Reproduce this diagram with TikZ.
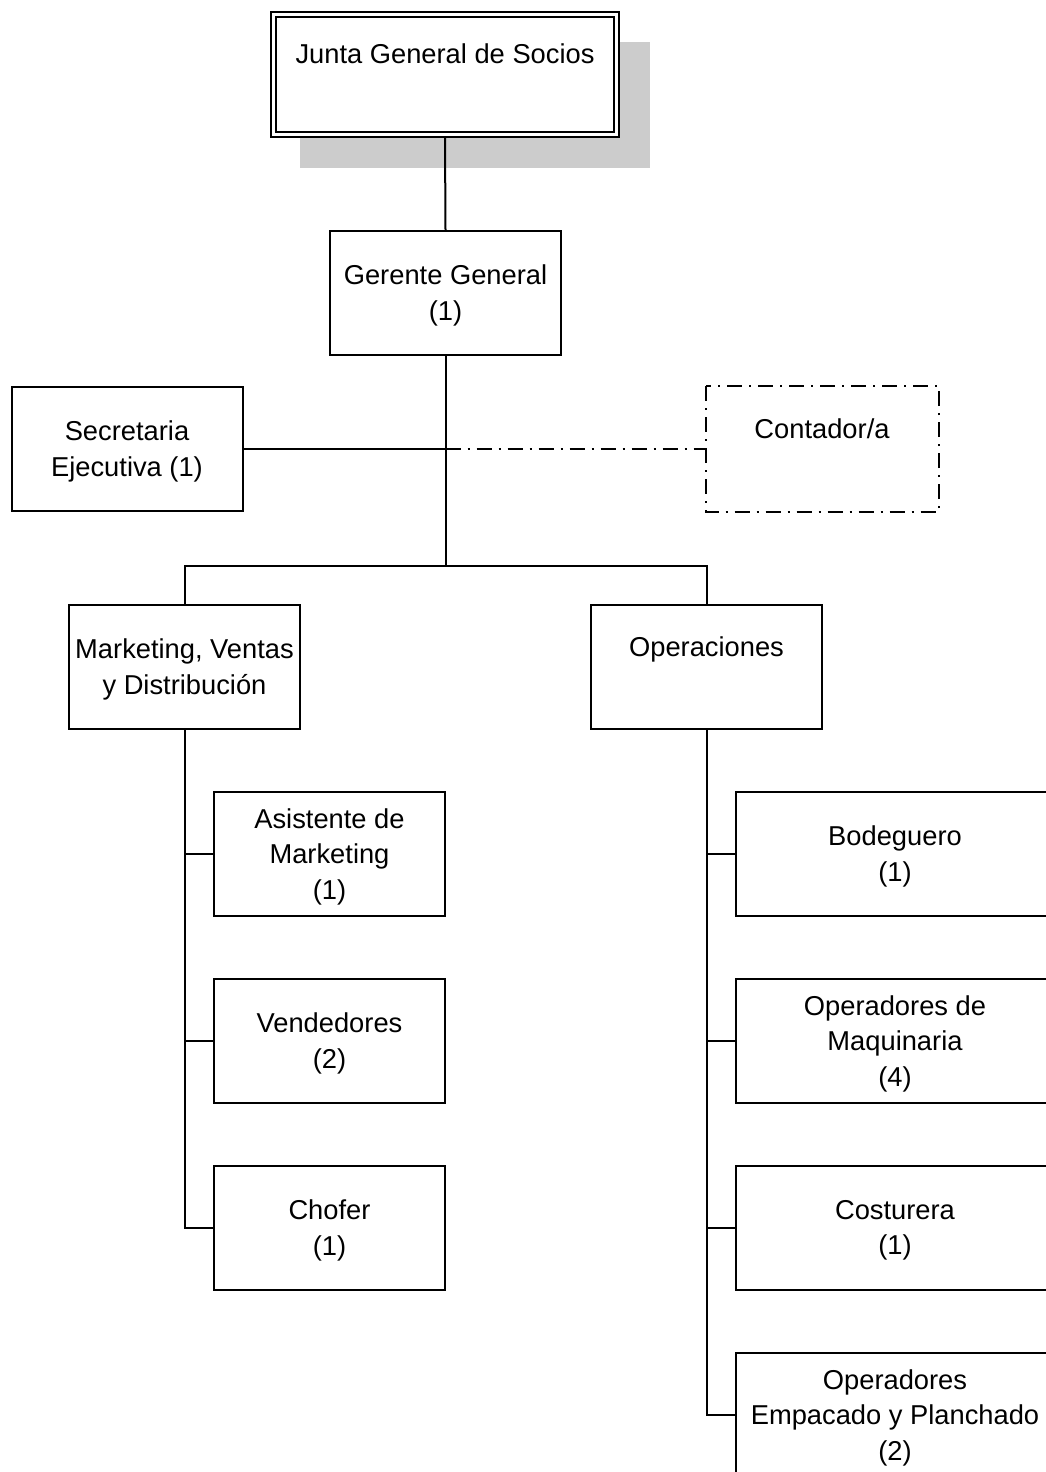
\documentclass[tikz,border=0pt]{standalone}
\usepackage{fontspec}
\setmainfont{Liberation Sans}
\definecolor{shadowgray}{RGB}{204,204,204}
\begin{document}
\begin{tikzpicture}[x=1pt,y=-1pt,
  lbl/.style={align=center, inner sep=0pt, yshift=-2.5pt, font=\fontsize{27.3pt}{35.5pt}\selectfont},
  box/.style={draw, line width=2pt, fill=white, minimum width=231pt, minimum height=124pt,
    inner sep=0pt, label={[lbl]center:#1}},
  widebox/.style={box={#1}, minimum width=318pt},
  conn/.style={line width=2pt},
  dashdot/.style={line width=2pt, dash pattern=on 15pt off 7pt on 2pt off 7pt}]
\useasboundingbox (0,0) rectangle (1046,1472);
\clip (0,0) rectangle (1046,1472);
\fill[white] (0,0) rectangle (1046,1472);
% shadow of top box
\fill[shadowgray] (300,42) rectangle (650,168);
% top box with double border
\node[box={Junta General de Socios\\ \strut}, minimum width=348pt, minimum height=125pt] (junta) at (445,74.5) {};
\draw[line width=2pt] ([xshift=6pt,yshift=-6pt]junta.north west) rectangle ([xshift=-6pt,yshift=6pt]junta.south east);
\node[box={Gerente General\\(1)}] (ger) at (445.5,293) {};
\node[box={Secretaria\\Ejecutiva (1)}] (sec) at (127,449) {};
\node[box={Contador/a\\ \strut}, draw=none, fill=none] (cont) at (822,449) {};
\draw[dashdot] (cont.north west) rectangle (cont.south east);
\node[box={Marketing, Ventas\\y Distribución}] (mkt) at (184.5,667) {};
\node[box={Operaciones\\ \strut}] (ops) at (706.5,667) {};
\node[box={Asistente de\\Marketing\\(1)}] (asis) at (329.5,854) {};
\node[box={Vendedores\\(2)}] (vend) at (329.5,1041) {};
\node[box={Chofer\\(1)}] (chof) at (329.5,1228) {};
\node[widebox={Bodeguero\\(1)}] (bode) at (895,854) {};
\node[widebox={Operadores de\\Maquinaria\\(4)}] (maq) at (895,1041) {};
\node[widebox={Costurera\\(1)}] (cost) at (895,1228) {};
\node[widebox={Operadores\\Empacado y Planchado\\(2)}] (emp) at (895,1415) {};
% connectors
\coordinate (j1) at (445.5,449);
\coordinate (t1) at (445.5,566);
\draw[conn] (junta.south) -- (ger.north);
\draw[conn] (ger.south) -- (t1);
\draw[conn] (sec.east) -- (j1);
\draw[dashdot] (j1) -- (cont.west);
\draw[conn] (mkt.north) |- (t1) -| (ops.north);
\draw[conn] (mkt.south) |- (asis.west);
\draw[conn] (mkt.south) |- (vend.west);
\draw[conn] (mkt.south) |- (chof.west);
\draw[conn] (ops.south) |- (bode.west);
\draw[conn] (ops.south) |- (maq.west);
\draw[conn] (ops.south) |- (cost.west);
\draw[conn] (ops.south) |- (emp.west);
\end{tikzpicture}
\end{document}
